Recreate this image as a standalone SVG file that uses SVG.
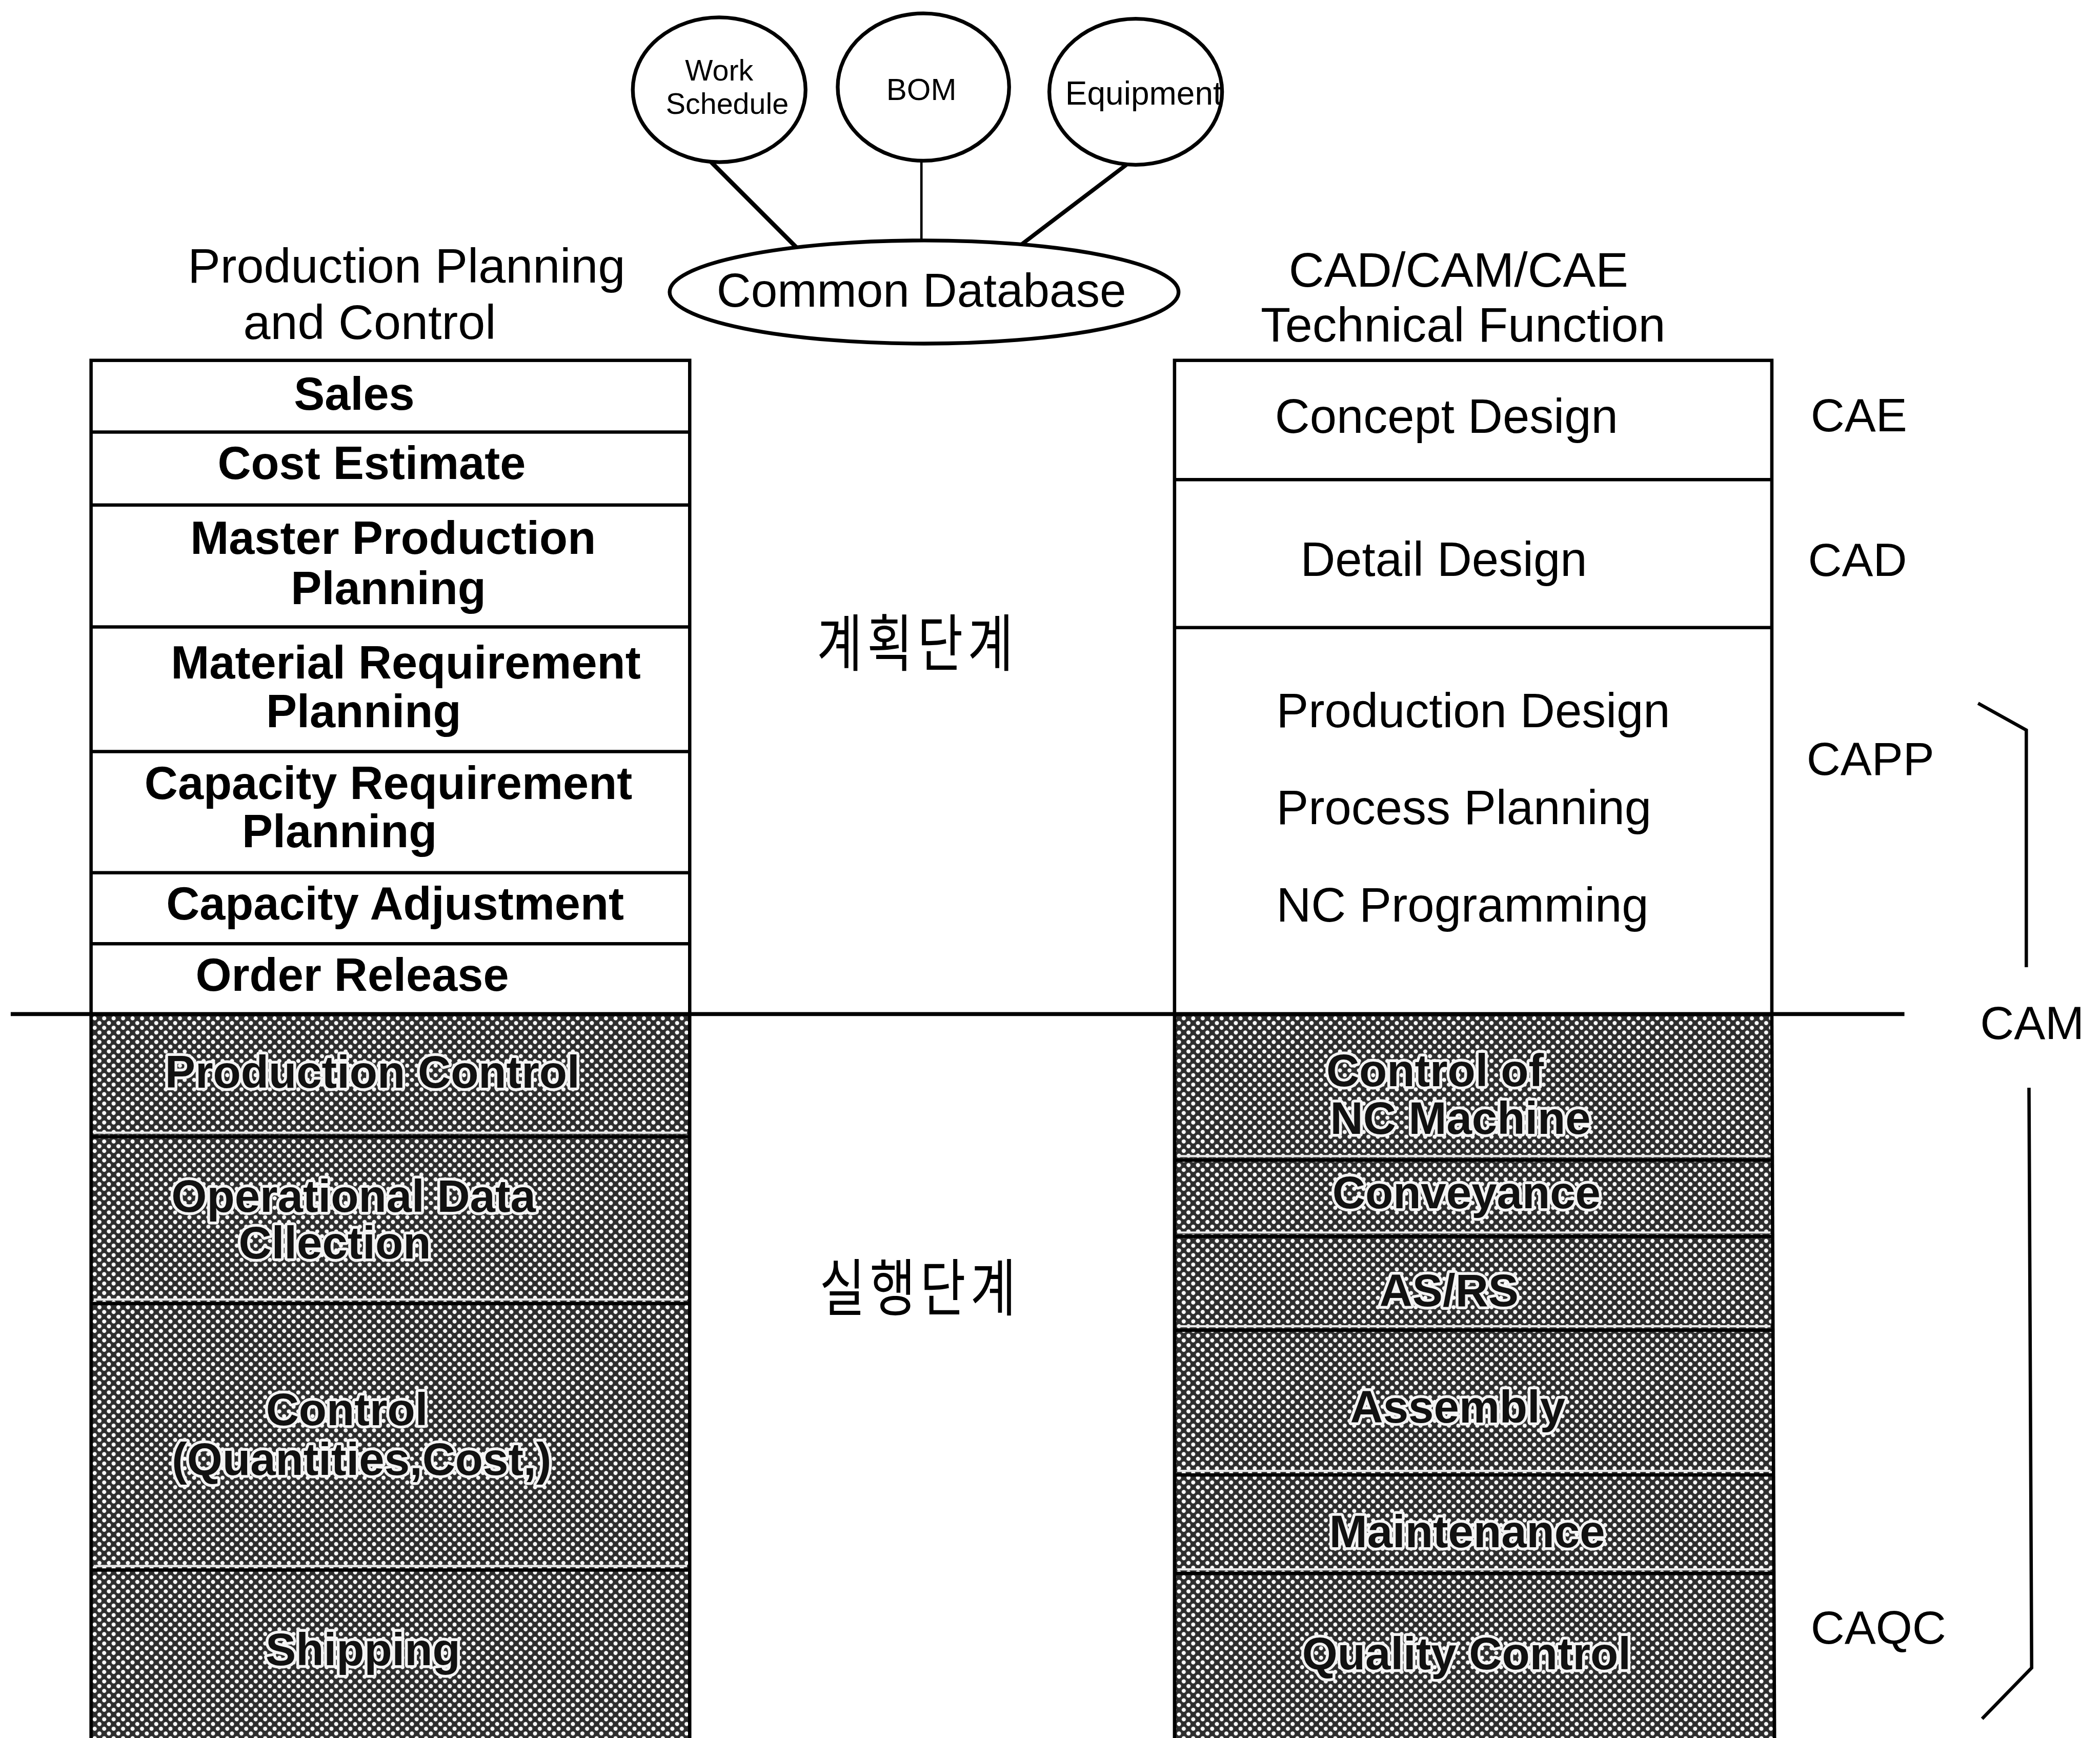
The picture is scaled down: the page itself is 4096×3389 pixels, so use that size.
<svg xmlns="http://www.w3.org/2000/svg" width="4096" height="3389" viewBox="0 0 4096 3389">
  <defs>
    <!-- halftone screen used for the execution-stage cells -->
    <pattern id="halftone" width="5" height="5" patternUnits="userSpaceOnUse" patternTransform="rotate(45)">
      <rect width="5" height="5" fill="#2e2e2e"/>
      <circle cx="2.5" cy="2.5" r="1.55" fill="#ffffff"/>
    </pattern>
    <style>
      .ln { stroke: #000; fill: none; stroke-width: 2.5; }
      .bubble { stroke: #000; fill: #fff; stroke-width: 2.8; }
      .cell { fill: #fff; stroke: #000; stroke-width: 2.5; }
      .dark { fill: url(#halftone); stroke: none; }
      .sep { stroke: #000; stroke-width: 2.5; }
      .sepl { stroke: #e8e8e8; stroke-width: 1.6; }
      text { font-family: "Liberation Sans", Arial, sans-serif; fill: #000; }
      .small { font-size: 22px; text-anchor: middle; }
      .db { font-size: 35.5px; text-anchor: middle; }
      .hdr { font-size: 36.5px; text-anchor: middle; }
      .lt { font-size: 34.5px; font-weight: bold; text-anchor: middle; }
      .rt { font-size: 36px; }
      .tag { font-size: 35px; }
      .inv { font-size: 34px; font-weight: bold; text-anchor: middle; fill: #111; stroke: #f4f4f4; stroke-width: 4.2; stroke-linejoin: round; paint-order: stroke; }
      .ko { font-family: "Noto Sans CJK KR", "Noto Sans CJK SC", sans-serif; font-size: 37px; letter-spacing: 3.5px; text-anchor: middle; dominant-baseline: central; }
    </style>
  </defs>

  <rect width="4096" height="3389" fill="#fff"/>

  <g transform="scale(2.6122)">
    <!-- links between the data sources and the common database -->
    <g id="connectors">
      <line x1="531" y1="121" x2="595" y2="185" stroke="#000" stroke-width="3.2"/>
      <line x1="688" y1="120" x2="688" y2="180" stroke="#000" stroke-width="1.8"/>
      <line x1="841" y1="123" x2="762" y2="183" stroke="#000" stroke-width="3"/>
    </g>

    <!-- data sources -->
    <g id="work-schedule">
      <ellipse class="bubble" cx="537" cy="67" rx="64.5" ry="54"/>
      <text class="small" x="537" y="60">Work</text>
      <text class="small" x="543" y="85">Schedule</text>
    </g>
    <g id="bom">
      <ellipse class="bubble" cx="689.5" cy="65" rx="64" ry="55"/>
      <text class="small" x="688" y="74.5" style="font-size:23px">BOM</text>
    </g>
    <g id="equipment">
      <ellipse class="bubble" cx="848" cy="68.5" rx="64.5" ry="54.5"/>
      <text class="small" x="854" y="78" style="font-size:24.5px">Equipment</text>
    </g>
    <g id="common-database">
      <ellipse class="bubble" cx="690" cy="218" rx="190" ry="38.5" stroke-width="3.2"/>
      <text class="db" x="688" y="229">Common Database</text>
    </g>

    <!-- column headings -->
    <g id="ppc-heading">
      <text class="hdr" x="303.5" y="211">Production Planning</text>
      <text class="hdr" x="276" y="253">and Control</text>
    </g>
    <g id="cad-heading">
      <text class="hdr" x="1089" y="214">CAD/CAM/CAE</text>
      <text class="hdr" x="1092.5" y="255">Technical Function</text>
    </g>

    <!-- stage labels -->
    <g id="planning-stage">
      <text class="ko" transform="translate(685,477) scale(1,1.25)" x="0" y="0">계획단계</text>
    </g>
    <g id="execution-stage">
      <text class="ko" transform="translate(687,958) scale(1,1.25)" x="0" y="0">실행단계</text>
    </g>

    <!-- production planning and control column: planning cells -->
    <g id="ppc-planning">
      <rect class="cell" x="68" y="269" width="447" height="488"/>
      <line class="sep" x1="68" y1="322.5" x2="515" y2="322.5"/>
      <line class="sep" x1="68" y1="377" x2="515" y2="377"/>
      <line class="sep" x1="68" y1="468" x2="515" y2="468"/>
      <line class="sep" x1="68" y1="561" x2="515" y2="561"/>
      <line class="sep" x1="68" y1="651.5" x2="515" y2="651.5"/>
      <line class="sep" x1="68" y1="704.5" x2="515" y2="704.5"/>
      <text class="lt" x="264.5" y="306">Sales</text>
      <text class="lt" x="277.5" y="357.5">Cost Estimate</text>
      <text class="lt" x="293.5" y="413.5">Master Production</text>
      <text class="lt" x="290" y="451">Planning</text>
      <text class="lt" x="303" y="506.5">Material Requirement</text>
      <text class="lt" x="271.5" y="543">Planning</text>
      <text class="lt" x="290" y="596.5">Capacity Requirement</text>
      <text class="lt" x="253.5" y="632.5">Planning</text>
      <text class="lt" x="295" y="686.5">Capacity Adjustment</text>
      <text class="lt" x="263" y="739.5">Order Release</text>
    </g>

    <!-- production planning and control column: execution cells -->
    <g id="ppc-execution">
      <rect class="dark" x="68" y="757" width="447" height="541"/>
      <line class="sepl" x1="70" y1="845.5" x2="513" y2="845.5"/>
      <line class="sep" x1="68" y1="848.5" x2="515" y2="848.5"/>
      <line class="sepl" x1="70" y1="970" x2="513" y2="970"/>
      <line class="sep" x1="68" y1="973" x2="515" y2="973"/>
      <line class="sepl" x1="70" y1="1169" x2="513" y2="1169"/>
      <line class="sep" x1="68" y1="1172" x2="515" y2="1172"/>
      <line class="sep" x1="68" y1="757" x2="68" y2="1298"/>
      <line class="sep" x1="515" y1="757" x2="515" y2="1298"/>
      <text class="inv" x="278" y="812">Production Control</text>
      <text class="inv" x="264" y="904.5">Operational Data</text>
      <text class="inv" x="250" y="939.5">Cllection</text>
      <text class="inv" x="259" y="1064">Control</text>
      <text class="inv" x="270" y="1101">(Quantities,Cost,)</text>
      <text class="inv" x="271" y="1243">Shipping</text>
    </g>

    <!-- CAD/CAM/CAE column: design cells -->
    <g id="cad-design">
      <rect class="cell" x="877" y="269" width="446" height="488"/>
      <line class="sep" x1="877" y1="358" x2="1323" y2="358"/>
      <line class="sep" x1="877" y1="468.5" x2="1323" y2="468.5"/>
      <text class="rt" x="952" y="323">Concept Design</text>
      <text class="rt" x="971" y="430">Detail Design</text>
      <text class="rt" x="953" y="543">Production Design</text>
      <text class="rt" x="953" y="615">Process Planning</text>
      <text class="rt" x="953" y="688">NC Programming</text>
    </g>

    <!-- CAD/CAM/CAE column: shop-floor cells -->
    <g id="cam-execution">
      <rect class="dark" x="877" y="757" width="447" height="541"/>
      <line class="sepl" x1="879" y1="863" x2="1322" y2="863"/>
      <line class="sep" x1="877" y1="866" x2="1324" y2="866"/>
      <line class="sepl" x1="879" y1="920" x2="1322" y2="920"/>
      <line class="sep" x1="877" y1="923" x2="1324" y2="923"/>
      <line class="sepl" x1="879" y1="990" x2="1322" y2="990"/>
      <line class="sep" x1="877" y1="993" x2="1324" y2="993"/>
      <line class="sepl" x1="879" y1="1098" x2="1322" y2="1098"/>
      <line class="sep" x1="877" y1="1101" x2="1324" y2="1101"/>
      <line class="sepl" x1="879" y1="1171.5" x2="1322" y2="1171.5"/>
      <line class="sep" x1="877" y1="1174.5" x2="1324" y2="1174.5"/>
      <line class="sep" x1="877" y1="757" x2="877" y2="1298"/>
      <line class="sep" x1="1323" y1="757" x2="1325" y2="1298"/>
      <text class="inv" x="1071.5" y="811">Control of</text>
      <text class="inv" x="1090.5" y="846.5">NC Machine</text>
      <text class="inv" x="1095" y="902">Conveyance</text>
      <text class="inv" x="1082" y="975">AS/RS</text>
      <text class="inv" x="1088.5" y="1062">Assembly</text>
      <text class="inv" x="1095.5" y="1155">Maintenance</text>
      <text class="inv" x="1095" y="1246">Quality Control</text>
    </g>

    <!-- planning / execution boundary -->
    <g id="stage-divider">
      <line x1="8" y1="757" x2="1422" y2="757" stroke="#000" stroke-width="3"/>
    </g>

    <!-- technology labels and CAM span -->
    <g id="cae-label"><text class="tag" x="1352" y="322">CAE</text></g>
    <g id="cad-label"><text class="tag" x="1350" y="430">CAD</text></g>
    <g id="capp-label"><text class="tag" x="1349" y="578.5">CAPP</text></g>
    <g id="caqc-label"><text class="tag" x="1352" y="1227">CAQC</text></g>
    <g id="cam-label">
      <text class="tag" x="1478.5" y="775.5">CAM</text>
      <polyline class="ln" points="1477,525 1513,545 1513,722"/>
      <polyline class="ln" points="1515,812 1517,1245 1480,1283"/>
    </g>
  </g>
</svg>
